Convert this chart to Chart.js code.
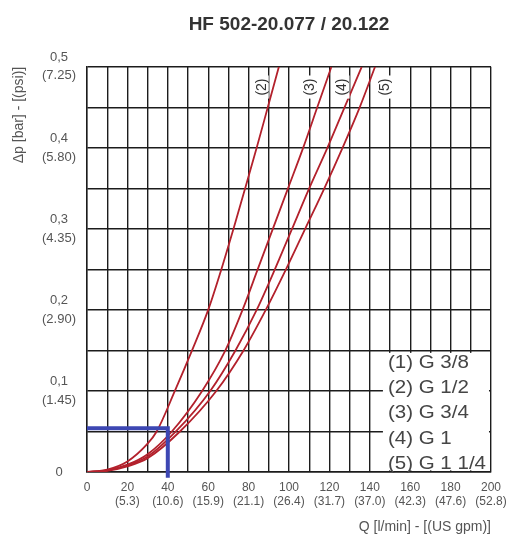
<!DOCTYPE html>
<html>
<head>
<meta charset="utf-8">
<script src="https://cdn.jsdelivr.net/npm/chart.js@4/dist/chart.umd.min.js"></script>
<style>
  body { margin: 0; background: #fff; }
</style>
</head>
<body>
<canvas id="myChart" width="510" height="538"></canvas>
<script>
// connection sizes shown in the box
const sizes = ['(1) G 3/8', '(2) G 1/2', '(3) G 3/4', '(4) G 1', '(5) G 1 1/4'];
const curveNames = ['(2)', '(3)', '(4)', '(5)'];

// flow Q [l/min] and pressure drop [bar]
const q2  = [0, 10, 20, 30, 34.5, 43.5, 52, 60, 66.5, 72.5, 78.3, 84, 89.5, 95];
const dp2 = [0, 0.003, 0.013, 0.035, 0.05, 0.1, 0.15, 0.2, 0.25, 0.3, 0.35, 0.4, 0.45, 0.5];
const q3  = [0, 10, 20, 30, 42, 57, 68.5, 77, 84.5, 92, 99.5, 107, 114, 121];
const dp3 = [0, 0.002, 0.009, 0.022, 0.05, 0.1, 0.15, 0.2, 0.25, 0.3, 0.35, 0.4, 0.45, 0.5];
const q4  = [0, 10, 20, 30, 44, 61, 73.5, 84, 93, 101.5, 110, 119, 127.5, 136];
const dp4 = [0, 0.002, 0.008, 0.019, 0.05, 0.1, 0.15, 0.2, 0.25, 0.3, 0.35, 0.4, 0.45, 0.5];
const q5  = [0, 10, 20, 30, 46, 64, 77.5, 88.5, 98.5, 108, 117.5, 126.5, 135, 142.6];
const dp5 = [0, 0.0015, 0.007, 0.017, 0.05, 0.1, 0.15, 0.2, 0.25, 0.3, 0.35, 0.4, 0.45, 0.5];

// example reading (blue)
const pointQ = 40;
const pointDp = 0.054;

// tick labels
const qTicks = [0, 20, 40, 60, 80, 100, 120, 140, 160, 180, 200];
const gpmTicks = ['', '(5.3)', '(10.6)', '(15.9)', '(21.1)', '(26.4)', '(31.7)', '(37.0)', '(42.3)', '(47.6)', '(52.8)'];
const barTicks = ['0', '0,1', '0,2', '0,3', '0,4', '0,5'];
const psiTicks = ['', '(1.45)', '(2.90)', '(4.35)', '(5.80)', '(7.25)'];

const labelQ = [86, 110, 126, 147];

const FONT = '"Liberation Sans", Arial, sans-serif';

function pts(qs, dps) {
  return qs.map((q, i) => ({x: q, y: dps[i]}));
}

function curve(qs, dps) {
  return {
    data: pts(qs, dps),
    borderColor: '#b3212c',
    borderWidth: 1.8,
    pointRadius: 0,
    cubicInterpolationMode: 'monotone',
    fill: false
  };
}

const extras = {
  id: 'extras',
  afterDraw(chart) {
    const {ctx, scales: {x, y}} = chart;
    ctx.save();
    // box with sizes
    const bx = x.getPixelForValue(146.5), by = y.getPixelForValue(0.147);
    const bw = x.getPixelForValue(199) - bx, bh = y.getPixelForValue(0.002) - by;
    ctx.fillStyle = '#fff';
    ctx.fillRect(bx, by, bw, bh);
    ctx.fillStyle = '#454545';
    ctx.font = '18px ' + FONT;
    ctx.textBaseline = 'middle';
    ctx.textAlign = 'left';
    sizes.forEach((s, i) => {
      ctx.save();
      ctx.translate(bx + 5, by + 10 + i * 25.3);
      ctx.scale(1.14, 1);
      ctx.fillText(s, 0, 0);
      ctx.restore();
    });

    // curve names at the top
    ctx.font = '14px ' + FONT;
    curveNames.forEach((n, i) => {
      const px = x.getPixelForValue(labelQ[i]), py = y.getPixelForValue(0.475);
      ctx.save();
      ctx.translate(px, py);
      ctx.rotate(-Math.PI / 2);
      const w = ctx.measureText(n).width;
      ctx.fillStyle = '#fff';
      ctx.fillRect(-w / 2 - 3, -8, w + 6, 16);
      ctx.fillStyle = '#333';
      ctx.textAlign = 'center';
      ctx.fillText(n, 0, 1);
      ctx.restore();
    });
    ctx.restore();
  }
};

let ctx = document.getElementById('myChart').getContext('2d');

let myChart = new Chart(ctx, {
  type: 'line',
  data: {
    datasets: [
      {
        data: [{x: 0, y: pointDp}, {x: pointQ, y: pointDp}, {x: pointQ, y: -0.007}],
        borderColor: '#3d47b3',
        borderWidth: 4,
        pointRadius: 0,
        tension: 0,
        clip: false
      },
      curve(q2, dp2),
      curve(q3, dp3),
      curve(q4, dp4),
      curve(q5, dp5)
    ]
  },
  options: {
    responsive: false,
    animation: false,
    layout: { padding: { left: 0, right: 19, top: 0, bottom: 0 } },
    plugins: {
      legend: { display: false },
      tooltip: { enabled: false },
      title: {
        display: true,
        text: 'HF 502-20.077 / 20.122',
        fullSize: false,
        color: '#333',
        font: { family: FONT, size: 19, weight: 'bold' },
        padding: { top: 13, bottom: 31 }
      }
    },
    scales: {
      x: {
        type: 'linear',
        min: 0,
        max: 200,
        afterFit: s => { s.height = 66; s.paddingRight = 0; s.paddingLeft = 0; },
        grid: { color: '#1c1c1c', lineWidth: 1.4, drawTicks: false },
        border: { color: '#1c1c1c', width: 1.4 },
        ticks: {
          stepSize: 10,
          autoSkip: false,
          maxRotation: 0,
          padding: 9,
          color: '#555',
          font: { family: FONT, size: 12, lineHeight: 1.17 },
          callback: v => {
            const i = qTicks.indexOf(Math.round(v));
            if (i < 0) return '';
            return gpmTicks[i] ? [String(qTicks[i]), gpmTicks[i]] : String(qTicks[i]);
          }
        },
        title: {
          display: true,
          text: 'Q [l/min] - [(US gpm)]',
          align: 'end',
          color: '#555',
          padding: 2,
          font: { family: FONT, size: 14 }
        }
      },
      y: {
        type: 'linear',
        min: 0,
        max: 0.5,
        afterFit: s => { s.width = 87; },
        grid: { color: '#1c1c1c', lineWidth: 1.4, drawTicks: false },
        border: { color: '#1c1c1c', width: 1.4 },
        ticks: {
          stepSize: 0.05,
          autoSkip: false,
          padding: 11,
          crossAlign: 'center',
          color: '#555',
          font: { family: FONT, size: 13, lineHeight: 1.4 },
          callback: v => {
            const k = Math.round(v * 100);
            if (k % 10 !== 0) return '';
            const i = k / 10;
            return psiTicks[i] ? [barTicks[i], psiTicks[i]] : barTicks[i];
          }
        },
        title: {
          display: true,
          text: 'Δp [bar] - [(psi)]',
          align: 'end',
          color: '#555',
          padding: 11,
          font: { family: FONT, size: 14 }
        }
      }
    }
  },
  plugins: [extras]
});
</script>
</body>
</html>
